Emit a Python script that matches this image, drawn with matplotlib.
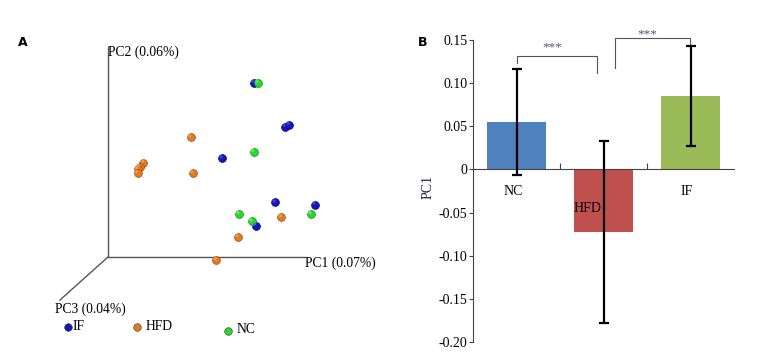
import numpy as np
import matplotlib
matplotlib.use("Agg")
import matplotlib.pyplot as plt

plt.rcParams['font.family'] = ['Liberation Serif', 'DejaVu Serif']

# Panel A: PCoA points, projected onto the drawing plane (PC1 axis end = 1, PC2 axis end = 1)
if_x = [0.74, 0.90, 0.92, 0.58, 0.85, 1.05, 0.75]
if_y = [0.83, 0.62, 0.63, 0.47, 0.26, 0.25, 0.15]
hfd_x = [0.42, 0.18, 0.16, 0.15, 0.15, 0.43, 0.88, 0.66, 0.55]
hfd_y = [0.57, 0.45, 0.43, 0.42, 0.40, 0.40, 0.19, 0.095, -0.014]
nc_x = [0.76, 0.74, 0.665, 0.73, 1.03]
nc_y = [0.83, 0.50, 0.205, 0.17, 0.205]
pc3_end = (-0.244, -0.205)

# Panel B: PC1 mean and error per group
groups = ["NC", "HFD", "IF"]
pc1_mean = [0.055, -0.0725, 0.085]
pc1_err = [0.061, 0.105, 0.058]
bar_colors = ["#4F81BD", "#C0504D", "#9BBB59"]
yticks = [0.15, 0.10, 0.05, 0, -0.05, -0.10, -0.15, -0.20]
ytick_labels = ["0.15", "0.10", "0.05", "0", "-0.05", "-0.10", "-0.15", "-0.20"]

fig = plt.figure(figsize=(7.59, 3.53), dpi=100)

# ---------- A ----------
ax1 = fig.add_axes([0, 0, 0.5, 1])
ax1.set_xlim(-0.548, 1.378)
ax1.set_ylim(-0.457, 1.224)
ax1.axis("off")
axc = "#555555"
ax1.plot([0, 0], [0, 1], color=axc, lw=1)
ax1.plot([0, 1], [0, 0], color=axc, lw=1)
ax1.plot([0, pc3_end[0]], [0, pc3_end[1]], color=axc, lw=1)
ax1.text(0, 0.975, "PC2 (0.06%)", fontsize=9.8, va="center", ha="left")
ax1.text(1.0, -0.03, "PC1 (0.07%)", fontsize=9.8, va="center", ha="left")
ax1.text(-0.27, -0.25, "PC3 (0.04%)", fontsize=9.8, va="center", ha="left")

def spheres(x, y, c, edge, hi):
    ax1.scatter(x, y, s=32, color=c, edgecolors=edge, linewidths=0.5, zorder=3)
    ax1.scatter(np.array(x) - 0.006, np.array(y) + 0.007, s=6, color=hi,
                edgecolors="none", alpha=0.6, zorder=4)

spheres(hfd_x, hfd_y, "#E07B22", "#A0520F", "#F5B070")
spheres(if_x, if_y, "#1515C0", "#0A0A70", "#5A5AF0")
spheres(nc_x, nc_y, "#2AD82A", "#159015", "#90F090")

# legend
leg_x = [-0.203, 0.147, 0.609]
leg_y = [-0.333, -0.333, -0.352]
leg_c = ["#1515C0", "#E07B22", "#2AD82A"]
leg_t = ["IF", "HFD", "NC"]
leg_tx = [-0.178, 0.193, 0.655]
leg_ty = [-0.333, -0.333, -0.343]
for i in range(3):
    ax1.scatter(leg_x[i], leg_y[i], s=30, color=leg_c[i], edgecolors="#333333",
                linewidths=0.4, zorder=3)
    ax1.text(leg_tx[i], leg_ty[i], leg_t[i], fontsize=9.8, va="center", ha="left")

fig.text(18 / 759, 1 - 43 / 353, "A", fontsize=9, fontweight="bold",
         family="DejaVu Sans", va="center", ha="left")

# ---------- B ----------
ax2 = fig.add_axes([473 / 759, 1 - 342 / 353, 261 / 759, 302 / 353])
xpos = np.arange(len(groups))
ax2.bar(xpos, pc1_mean, width=0.667, color=bar_colors, zorder=2)
ax2.errorbar(xpos, pc1_mean, yerr=pc1_err, fmt="none", ecolor="black",
             elinewidth=1.6, capsize=3.5, capthick=1.6, zorder=3)
ax2.set_xlim(-0.5, 2.5)
ax2.set_ylim(-0.2, 0.15)
ax2.spines["top"].set_visible(False)
ax2.spines["right"].set_visible(False)
ax2.spines["bottom"].set_position(("data", 0))
ax2.spines["left"].set_color("#444444")
ax2.spines["bottom"].set_color("#444444")
ax2.set_xticks([0.5, 1.5])
ax2.set_xticklabels([])
ax2.tick_params(axis="x", direction="in", length=4, color="#444444")
ax2.set_yticks(yticks)
ax2.set_yticklabels(ytick_labels, fontsize=10)
ax2.tick_params(axis="y", direction="out", length=3, color="#444444", pad=1)

lab_x = [-0.04, 0.82, 1.96]
lab_y = [-0.0255, -0.045, -0.0255]
for i, g in enumerate(groups):
    ax2.text(lab_x[i], lab_y[i], g, fontsize=10, ha="center", va="center", zorder=4)

ax2.text(-0.172, 0.513, "PC1", transform=ax2.transAxes, rotation=90,
         fontsize=10, ha="center", va="center", color="#222244")

# significance brackets
bc = "#555555"
ax2.plot([0.0, 0.0, 0.925, 0.925], [0.123, 0.131, 0.131, 0.112], color=bc,
         lw=0.8, clip_on=False)
ax2.text(0.41, 0.142, "***", fontsize=9.5, ha="center", va="center",
         color="#555570")
ax2.plot([1.13, 1.13, 1.994, 1.994], [0.118, 0.152, 0.152, 0.144], color=bc,
         lw=0.8, clip_on=False)
ax2.text(1.5, 0.157, "***", fontsize=9.5, ha="center", va="center",
         color="#555570", clip_on=False)

fig.text(418 / 759, 1 - 42 / 353, "B", fontsize=9, fontweight="bold",
         family="DejaVu Sans", va="center", ha="left")

fig.savefig("out.png", dpi=100)
